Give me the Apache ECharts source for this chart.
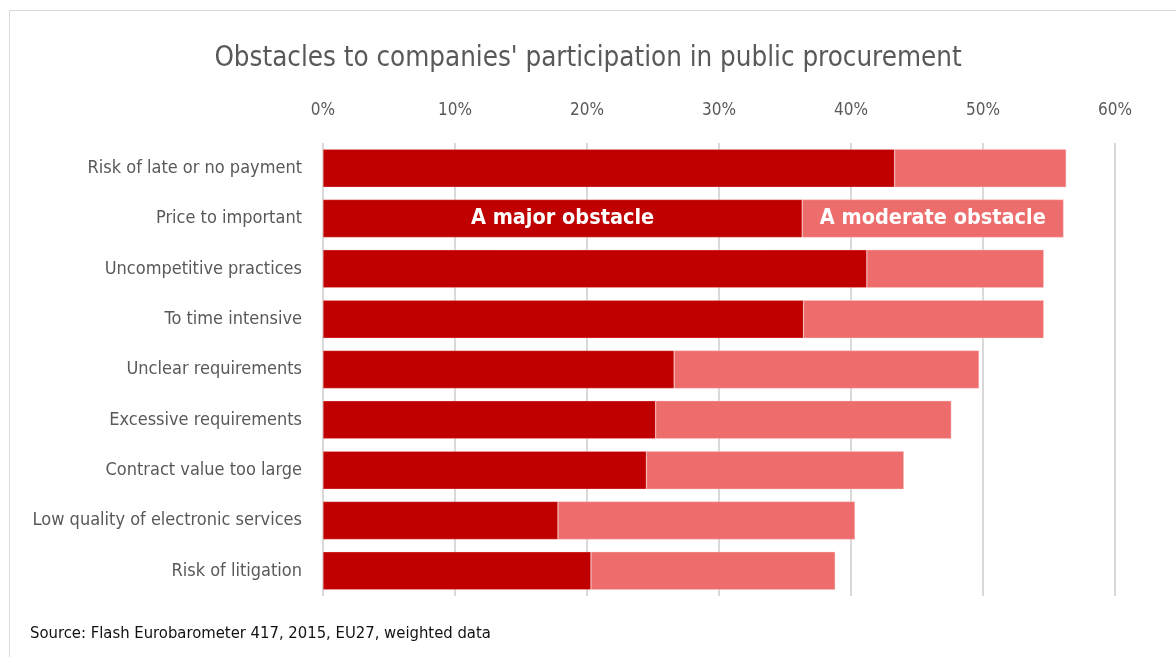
<!DOCTYPE html>
<html>
<head>
<meta charset="utf-8">
<script src="https://cdn.jsdelivr.net/npm/echarts@6/dist/echarts.min.js"></script>
<style>
  html, body { margin: 0; padding: 0; background: #fff; }
  #chart { width: 1176px; height: 657px; }
</style>
</head>
<body>
<div id="chart"></div>
<script>
var categories = [
  'Risk of late or no payment',
  'Price to important',
  'Uncompetitive practices',
  'To time intensive',
  'Unclear requirements',
  'Excessive requirements',
  'Contract value too large',
  'Low quality of electronic services',
  'Risk of litigation'
];
var majorValues = [43.3, 36.3, 41.2, 36.4, 26.6, 25.2, 24.5, 17.8, 20.3];
var moderateValues = [13.0, 19.8, 13.4, 18.2, 23.1, 22.4, 19.5, 22.5, 18.5];
var tickLabels = ['0%', '10%', '20%', '30%', '40%', '50%', '60%'];

var font = "'DejaVu Sans Condensed', 'Liberation Sans Narrow', sans-serif";
var chart = echarts.init(document.getElementById('chart'));

// only the second bar carries the series names
function segLabel(p) {
  return p.dataIndex === 1 ? p.seriesName : '';
}

var option = {
  animation: false,
  title: {
    text: "Obstacles to companies' participation in public procurement",
    left: 'center',
    top: 40,
    textStyle: {
      fontFamily: font,
      fontSize: 27.5,
      fontWeight: 'normal',
      color: '#595959'
    }
  },
  graphic: [{
    type: 'rect',
    shape: { x: 9.5, y: 10.5, width: 1200, height: 700 },
    style: { fill: 'none', stroke: '#d9d9d9', lineWidth: 1 }
  }, {
    type: 'text',
    left: 30,
    top: 625,
    style: {
      text: 'Source: Flash Eurobarometer 417, 2015, EU27, weighted data',
      fontFamily: font,
      fontSize: 16.5,
      fill: '#111'
    }
  }],
  grid: {
    left: 323,
    right: 61,
    top: 143,
    bottom: 61
  },
  xAxis: {
    type: 'value',
    position: 'top',
    min: 0,
    max: 60,
    interval: 10,
    axisLine: { show: false },
    axisTick: { show: false },
    splitLine: { lineStyle: { color: '#d9d9d9', width: 2 } },
    axisLabel: {
      margin: 24,
      fontFamily: font,
      fontSize: 17,
      color: '#595959',
      formatter: function (v) { return tickLabels[Math.round(v / 10)]; }
    }
  },
  yAxis: {
    type: 'category',
    inverse: true,
    data: categories,
    axisLine: { show: false },
    axisTick: { show: false },
    axisLabel: {
      margin: 21,
      fontFamily: font,
      fontSize: 18,
      color: '#595959'
    }
  },
  series: [{
    name: 'A major obstacle',
    type: 'bar',
    stack: 'total',
    barWidth: 38,
    data: majorValues,
    itemStyle: { color: '#c00000', borderColor: 'rgba(255,200,200,0.6)', borderWidth: 0.5 },
    label: {
      show: true,
      position: 'inside',
      formatter: segLabel,
      fontFamily: font,
      fontSize: 21.5,
      fontWeight: 'bold',
      color: '#fff'
    }
  }, {
    name: 'A moderate obstacle',
    type: 'bar',
    stack: 'total',
    barWidth: 38,
    data: moderateValues,
    itemStyle: { color: '#ed6d6d', borderColor: 'rgba(255,200,200,0.8)', borderWidth: 0.5 },
    label: {
      show: true,
      position: 'inside',
      formatter: segLabel,
      fontFamily: font,
      fontSize: 21.5,
      fontWeight: 'bold',
      color: '#fff'
    }
  }]
};

chart.setOption(option);
</script>
</body>
</html>
